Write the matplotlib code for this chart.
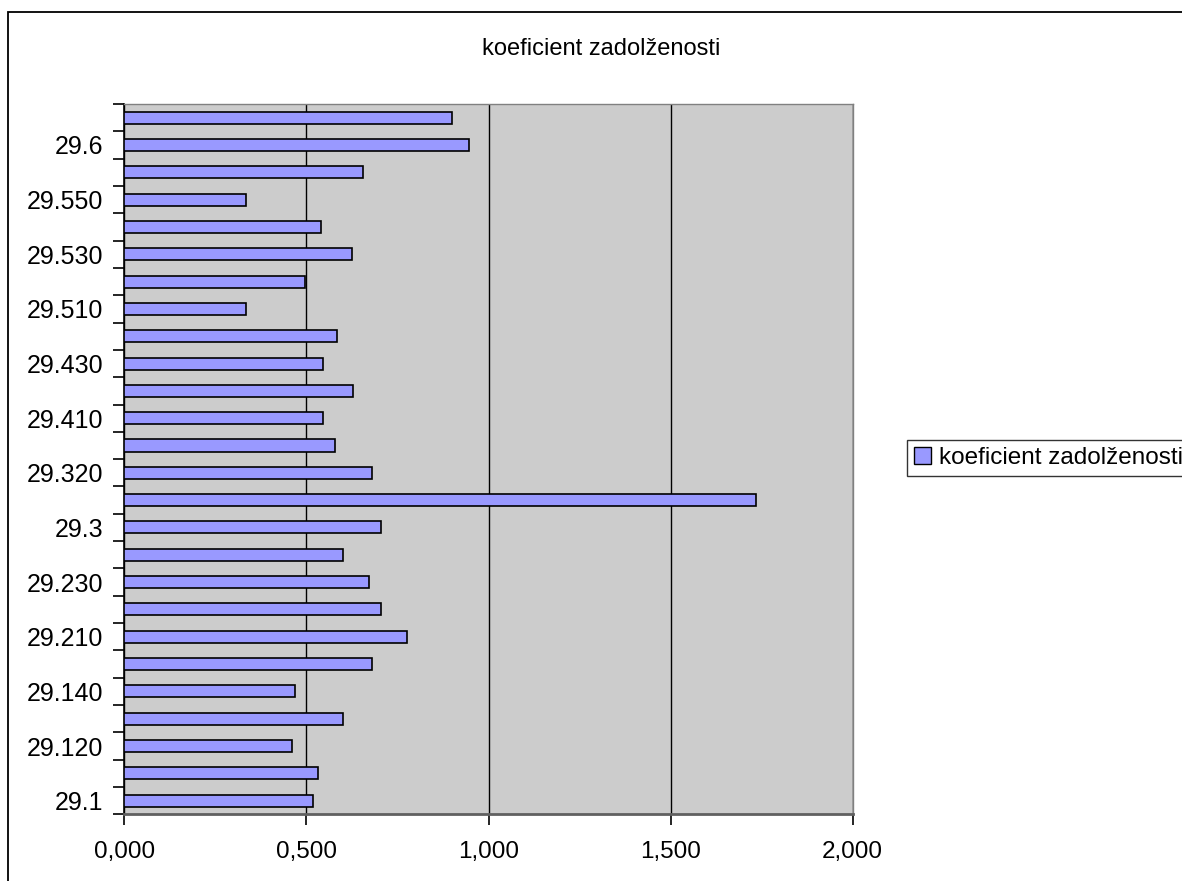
import matplotlib
matplotlib.use("Agg")
import matplotlib.pyplot as plt
from matplotlib.patches import Rectangle, Patch
import numpy as np

plt.rcParams['font.family'] = ['Liberation Sans', 'DejaVu Sans']

title = "koeficient zadolženosti"
series_name = "koeficient zadolženosti"

# categories from bottom to top
categories = ["29.1", "29.110", "29.120", "29.130", "29.140", "29.200", "29.210",
              "29.220", "29.230", "29.240", "29.3", "29.310", "29.320", "29.400",
              "29.410", "29.420", "29.430", "29.500", "29.510", "29.520", "29.530",
              "29.540", "29.550", "29.560", "29.6", "29.700"]
values = [0.519, 0.533, 0.460, 0.600, 0.470, 0.680, 0.777, 0.706, 0.671, 0.600,
          0.705, 1.735, 0.680, 0.579, 0.545, 0.629, 0.545, 0.583, 0.333, 0.497,
          0.624, 0.540, 0.333, 0.655, 0.946, 0.899]
x_ticks = [0.0, 0.5, 1.0, 1.5, 2.0]
x_tick_labels = ["0,000", "0,500", "1,000", "1,500", "2,000"]

W, H = 1182, 881
fig = plt.figure(figsize=(W / 100, H / 100), dpi=100)
fig.patch.set_facecolor("white")

# outer chart frame
fig.add_artist(Rectangle((7.5 / W, -0.05), 1.2, 1 - 11.7 / H + 0.05,
                         transform=fig.transFigure, fill=False,
                         edgecolor="black", linewidth=1.3))

left, right, top, bottom = 124.3, 852.7, 104, 814.3
ax = fig.add_axes([left / W, 1 - bottom / H, (right - left) / W, (bottom - top) / H])
ax.set_facecolor("#CCCCCC")

pos = np.arange(len(categories))
ax.barh(pos, values, height=0.44, color="#9999FF", edgecolor="black",
        linewidth=1.2, zorder=3)

ax.set_xlim(0, 2.0)
ax.set_ylim(-0.5, len(categories) - 0.5)
ax.set_xticks(x_ticks)
ax.set_xticklabels(x_tick_labels, fontsize=17.5)
ax.xaxis.grid(True, color="black", linewidth=1.0, zorder=1)
ax.set_axisbelow(True)

# y ticks: major at boundaries (marks), labels on every other category
ax.set_yticks(np.arange(-0.5, len(categories), 1.0))
ax.set_yticklabels([])
ax.set_yticks(pos[::2], minor=True)
ax.set_yticklabels(categories[::2], minor=True, fontsize=18)
ax.tick_params(axis="y", which="minor", length=0, pad=15)
ax.tick_params(axis="y", which="major", length=8, width=1.2, direction="out")
ax.tick_params(axis="x", length=8, width=1.2, direction="out", pad=11)

for s in ["top", "right"]:
    ax.spines[s].set_color("#808080")
    ax.spines[s].set_linewidth(1.0)
ax.spines["bottom"].set_color("#606060")
ax.spines["bottom"].set_linewidth(2.0)
ax.spines["left"].set_color("black")
ax.spines["left"].set_linewidth(1.2)

fig.text(601 / W, 1 - 49 / H, title, ha="center", va="center", fontsize=17)

handle = Patch(facecolor="#9999FF", edgecolor="black", linewidth=1.0)
leg = fig.legend([handle], [series_name], loc="center left",
                 bbox_to_anchor=(907 / W, 1 - 458 / H), fontsize=17.5,
                 frameon=True, fancybox=False, edgecolor="black",
                 handlelength=0.7, handleheight=0.7, handletextpad=0.3,
                 borderpad=0.3, borderaxespad=0)
leg.get_frame().set_linewidth(1.0)

fig.savefig("out.png", dpi=100)
